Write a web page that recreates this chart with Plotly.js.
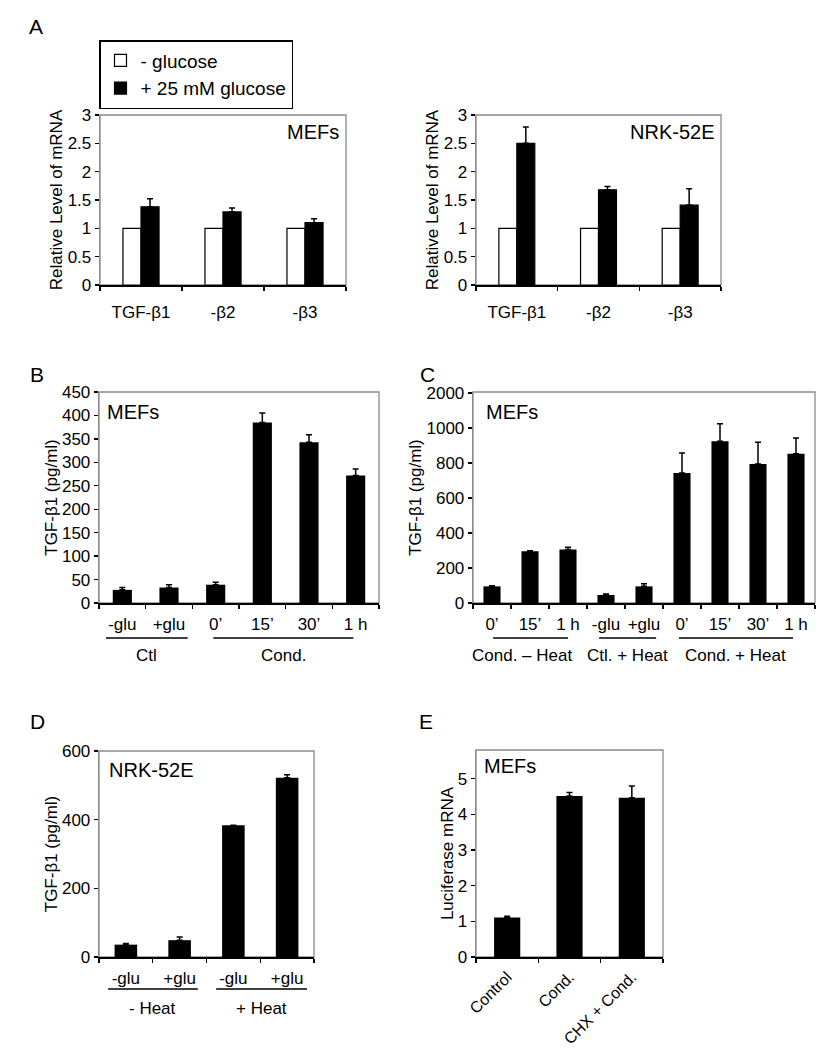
<!DOCTYPE html>
<html>
<head>
<meta charset="utf-8">
<script src="https://cdn.plot.ly/plotly-3.0.1.min.js"></script>
<style>html,body{margin:0;padding:0;background:#fff;}#chart{width:832px;height:1050px;}</style>
</head>
<body>
<div id="chart"></div>
<script>
// ---------- DATA ----------
const catsA = ['TGF-β1', '-β2', '-β3'];
const mefMinus = [1, 1, 1];
const mefPlus = [1.38, 1.29, 1.10];
const mefPlusErr = [0.14, 0.07, 0.07];
const nrkMinus = [1, 1, 1];
const nrkPlus = [2.50, 1.68, 1.41];
const nrkPlusErr = [0.29, 0.06, 0.29];
const legendNames = ['- glucose', '+ 25 mM glucose'];

const catsB = ['-glu', '+glu', '0’', '15’', '30’', '1 h'];
const valsB = [28, 33, 39, 385, 343, 272];
const errB = [5, 6, 5, 20, 16, 14];
const groupsB = ['Ctl', 'Cond.'];

const catsC = ['0’', '15’', '1 h', '-glu', '+glu', '0’', '15’', '30’', '1 h'];
const valsC = [95, 295, 305, 46, 95, 743, 924, 794, 853];
const errC = [4, 4, 13, 5, 15, 114, 99, 124, 90];
const groupsC = ['Cond. – Heat', 'Ctl. + Heat', 'Cond. + Heat'];
const tickValsC = [0, 200, 400, 600, 800, 1000, 1200];
const tickTextC = ['0', '200', '400', '600', '800', '1000', '2000'];

const catsD = ['-glu', '+glu', '-glu', '+glu'];
const valsD = [36, 49, 384, 522];
const errD = [3, 9, 0, 9];
const groupsD = ['- Heat', '+ Heat'];

const catsE = ['Control', 'Cond.', 'CHX + Cond.'];
const valsE = [1.11, 4.51, 4.46];
const errE = [0.03, 0.10, 0.33];

// ---------- LAYOUT HELPERS ----------
const W = 832, H = 1050;
const FONT = 'Liberation Sans, Arial, sans-serif';
const TICK = 17;
const px = (a, b) => [a / W, b / W];
const py = (top, bot) => [1 - bot / H, 1 - top / H];
const yp = v => 1 - v / H;
const idx = arr => arr.map((_, i) => i);
const zeros = arr => arr.map(() => 0);
const bounds = arr => { const b = []; for (let i = 0; i <= arr.length; i++) b.push(i - 0.5); return b; };
const f = (size) => ({size: size, color: 'black', family: FONT});

function xAxis(cats, dom, anchor, extra) {
  return Object.assign({
    domain: dom, anchor: anchor, range: [-0.5, cats.length - 0.5],
    tickmode: 'array', tickvals: idx(cats), ticktext: cats, ticks: '',
    showline: true, linecolor: 'black', linewidth: 1.5,
    showgrid: false, zeroline: false, fixedrange: true,
    tickfont: f(TICK),
    ticklabelstandoff: 5,
    minor: {tickmode: 'array', tickvals: bounds(cats), ticks: 'outside', ticklen: 4, tickcolor: 'black', tickwidth: 1.3, showgrid: false}
  }, extra || {});
}
function yAxis(dom, anchor, range, title, extra) {
  return Object.assign({
    domain: dom, anchor: anchor, range: range,
    showline: true, linecolor: '#8a8a8a', linewidth: 1.3,
    ticks: 'outside', ticklen: 4, tickcolor: 'black', tickwidth: 1.3,
    showgrid: false, zeroline: false, fixedrange: true,
    tickfont: f(TICK), ticklabelstandoff: 0,
    title: {text: title, font: f(17), standoff: 0}
  }, extra || {});
}
function blackBars(cats, vals, err, xa, ya, w) {
  return {
    type: 'bar', x: idx(cats), y: vals, xaxis: xa, yaxis: ya, width: w,
    marker: {color: 'black', line: {width: 0}}, showlegend: false, hoverinfo: 'skip',
    error_y: {type: 'data', symmetric: false, array: err, arrayminus: zeros(err), color: 'black', thickness: 1.5, width: 3}
  };
}

const traces = [
  {type: 'bar', name: legendNames[0], x: idx(catsA), y: mefMinus, xaxis: 'x', yaxis: 'y', offset: -0.22, width: 0.22,
   marker: {color: 'white', line: {color: 'black', width: 1.2}}, legendgroup: 'm', hoverinfo: 'skip'},
  {type: 'bar', name: legendNames[1], x: idx(catsA), y: mefPlus, xaxis: 'x', yaxis: 'y', offset: 0, width: 0.22,
   marker: {color: 'black', line: {color: 'black', width: 1.2}}, legendgroup: 'p', hoverinfo: 'skip',
   error_y: {type: 'data', symmetric: false, array: mefPlusErr, arrayminus: zeros(mefPlusErr), color: 'black', thickness: 1.5, width: 3}},
  {type: 'bar', name: legendNames[0], x: idx(catsA), y: nrkMinus, xaxis: 'x2', yaxis: 'y2', offset: -0.22, width: 0.22,
   marker: {color: 'white', line: {color: 'black', width: 1.2}}, showlegend: false, hoverinfo: 'skip'},
  {type: 'bar', name: legendNames[1], x: idx(catsA), y: nrkPlus, xaxis: 'x2', yaxis: 'y2', offset: 0, width: 0.22,
   marker: {color: 'black', line: {color: 'black', width: 1.2}}, showlegend: false, hoverinfo: 'skip',
   error_y: {type: 'data', symmetric: false, array: nrkPlusErr, arrayminus: zeros(nrkPlusErr), color: 'black', thickness: 1.5, width: 3}},
  blackBars(catsB, valsB, errB, 'x3', 'y3', 0.41),
  blackBars(catsC, valsC, errC, 'x4', 'y4', 0.45),
  blackBars(catsD, valsD, errD, 'x5', 'y5', 0.42),
  blackBars(catsE, valsE, errE, 'x6', 'y6', 0.42)
];

const domA1x = px(100, 346), domA2x = px(476, 721), domAy = py(115, 285);
const domBx = px(99, 379), domCx = px(473, 815), domBCy = py(392, 603);
const domDx = px(99, 314), domDy = py(751, 957);
const domEx = px(476, 663), domEy = py(750, 957);

const frames = ['', '2', '3', '4', '5', '6'].map(s => ({
  type: 'rect', xref: 'x' + s + ' domain', yref: 'y' + s + ' domain', x0: 0, x1: 1, y0: 0, y1: 1,
  line: {color: '#8a8a8a', width: 1.3}, layer: 'below'
}));

function groupLine(xa, x0, x1, y) {
  return {type: 'line', xref: xa, yref: 'paper', x0: x0, x1: x1, y0: yp(y), y1: yp(y), line: {color: 'black', width: 1.5}};
}
const shapes = frames.concat([
  groupLine('x3', -0.35, 1.4, 638), groupLine('x3', 1.95, 4.95, 638),
  groupLine('x4', 0.03, 2.0, 638), groupLine('x4', 2.82, 4.32, 638), groupLine('x4', 4.92, 7.92, 638),
  groupLine('x5', -0.33, 1.34, 989), groupLine('x5', 1.68, 3.37, 989)
]);

function ann(text, x, y, opts) {
  return Object.assign({text: text, x: x, y: y, xref: 'paper', yref: 'paper', showarrow: false,
    font: f(20), xanchor: 'left', yanchor: 'middle'}, opts || {});
}
const annotations = [
  ann('A', 27 / W, yp(27), {font: f(21)}),
  ann('B', 28 / W, yp(374), {font: f(21)}),
  ann('C', 418 / W, yp(374), {font: f(21)}),
  ann('D', 28 / W, yp(721), {font: f(21)}),
  ann('E', 417 / W, yp(721), {font: f(21)}),
  ann('MEFs', 341 / W, yp(132), {xanchor: 'right'}),
  ann('NRK-52E', 716 / W, yp(132), {xanchor: 'right'}),
  ann('MEFs', 105 / W, yp(412)),
  ann('MEFs', 484 / W, yp(412)),
  ann('NRK-52E', 107 / W, yp(770)),
  ann('MEFs', 482 / W, yp(766)),
  ann(groupsB[0], 0.525, yp(655), {xref: 'x3', xanchor: 'center', font: f(17)}),
  ann(groupsB[1], 3.45, yp(655), {xref: 'x3', xanchor: 'center', font: f(17)}),
  ann(groupsC[0], 0.8, yp(655), {xref: 'x4', xanchor: 'center', font: f(17)}),
  ann(groupsC[1], 3.57, yp(655), {xref: 'x4', xanchor: 'center', font: f(17)}),
  ann(groupsC[2], 6.42, yp(655), {xref: 'x4', xanchor: 'center', font: f(17)}),
  ann(groupsD[0], 0.5, yp(1008), {xref: 'x5', xanchor: 'center', font: f(17)}),
  ann(groupsD[1], 2.52, yp(1008), {xref: 'x5', xanchor: 'center', font: f(17)})
];

const layout = {
  width: W, height: H, margin: {l: 0, r: 0, t: 0, b: 0},
  paper_bgcolor: 'white', plot_bgcolor: 'white',
  font: {family: FONT, color: 'black'},
  barmode: 'overlay',
  showlegend: true,
  legend: {x: 99 / W, y: yp(40), xanchor: 'left', yanchor: 'top', bordercolor: 'black', borderwidth: 1.5,
    bgcolor: 'white', font: f(19), traceorder: 'normal', itemwidth: 30},
  xaxis: xAxis(catsA, domA1x, 'y', {ticklabelstandoff: 11}),
  yaxis: yAxis(domAy, 'x', [0, 3], 'Relative Level of mRNA', {dtick: 0.5}),
  xaxis2: xAxis(catsA, domA2x, 'y2', {ticklabelstandoff: 11}),
  yaxis2: yAxis(domAy, 'x2', [0, 3], 'Relative Level of mRNA', {dtick: 0.5}),
  xaxis3: xAxis(catsB, domBx, 'y3'),
  yaxis3: yAxis(domBCy, 'x3', [0, 450], 'TGF-β1 (pg/ml)', {dtick: 50}),
  xaxis4: xAxis(catsC, domCx, 'y4'),
  yaxis4: yAxis(domBCy, 'x4', [0, 1205], 'TGF-β1 (pg/ml)', {tickmode: 'array', tickvals: tickValsC, ticktext: tickTextC}),
  xaxis5: xAxis(catsD, domDx, 'y5'),
  yaxis5: yAxis(domDy, 'x5', [0, 600], 'TGF-β1 (pg/ml)', {dtick: 200}),
  xaxis6: xAxis(catsE, domEx, 'y6', {tickangle: -45, ticklabelstandoff: 3, tickfont: f(16)}),
  yaxis6: yAxis(domEy, 'x6', [0, 5.8], 'Luciferase mRNA', {dtick: 1}),
  shapes: shapes,
  annotations: annotations
};

Plotly.newPlot('chart', traces, layout, {staticPlot: true, displayModeBar: false});
</script>
</body>
</html>
